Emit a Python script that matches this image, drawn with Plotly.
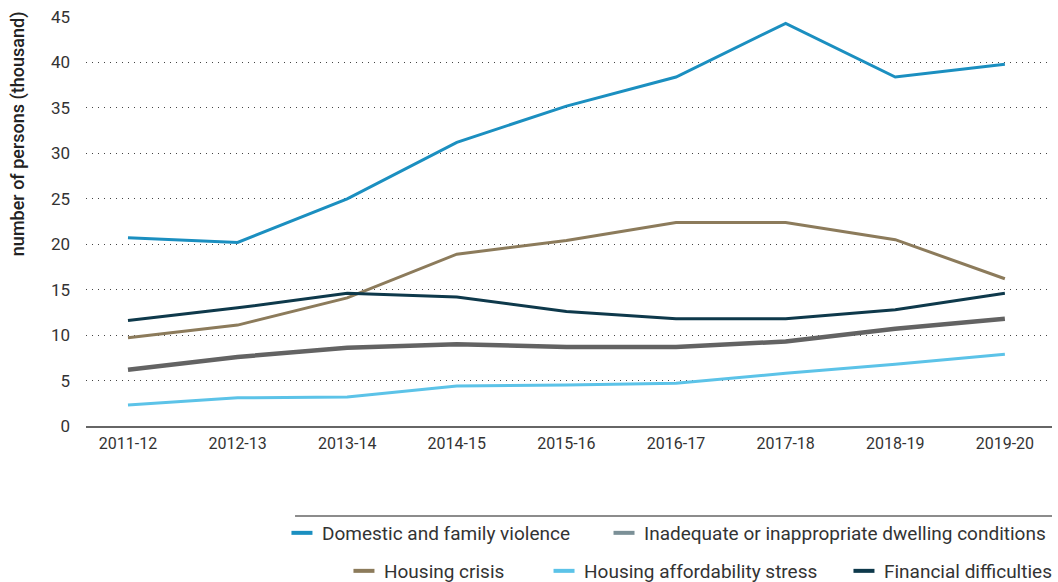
import plotly.graph_objects as go

years = ["2011-12", "2012-13", "2013-14", "2014-15", "2015-16", "2016-17", "2017-18", "2018-19", "2019-20"]
domestic = [20.7, 20.2, 25.0, 31.2, 35.2, 38.4, 44.3, 38.4, 39.8]
inadequate = [6.2, 7.6, 8.6, 9.0, 8.7, 8.7, 9.3, 10.7, 11.8]
housing_crisis = [9.7, 11.1, 14.1, 18.9, 20.4, 22.4, 22.4, 20.5, 16.2]
affordability = [2.3, 3.1, 3.2, 4.4, 4.5, 4.7, 5.8, 6.8, 7.9]
financial = [11.6, 13.0, 14.6, 14.2, 12.6, 11.8, 11.8, 12.8, 14.6]

# name, values, line colour, legend colour, width, legend id, legend x, legend y (container)
series = [
    ("Domestic and family violence", domestic, "#1b8fc0", "#1b8fc0", 3, "legend", 0.2665, 0.0842),
    ("Inadequate or inappropriate dwelling conditions", inadequate, "#636363", "#7b9097", 4.5, "legend2", 0.5709, 0.0842),
    ("Housing crisis", housing_crisis, "#8c7b5b", "#8c7b5b", 3, "legend3", 0.3251, 0.0189),
    ("Housing affordability stress", affordability, "#5cc3e8", "#5cc3e8", 3, "legend4", 0.5142, 0.0189),
    ("Financial difficulties", financial, "#0e394b", "#0e394b", 3, "legend5", 0.7977, 0.0189),
]

fig = go.Figure()
for name, vals, col, lcol, w, lg, lx, ly in series:
    fig.add_trace(go.Scatter(x=years, y=vals, mode="lines", name=name,
                             line=dict(color=col, width=w), showlegend=False))

legends = {}
for name, vals, col, lcol, w, lg, lx, ly in series:
    fig.add_trace(go.Scatter(x=[None], y=[None], mode="markers", name=name,
                             marker=dict(symbol="line-ew", size=15, color=lcol,
                                         line=dict(color=lcol, width=4)),
                             legend=lg, showlegend=True))
    legends[lg] = dict(orientation="h", x=lx, xanchor="left", y=ly, yanchor="middle",
                       xref="container", yref="container",
                       font=dict(size=19, color="#333"), itemwidth=30,
                       bgcolor="rgba(0,0,0,0)", borderwidth=0)

fig.update_layout(
    width=1058, height=582,
    margin=dict(l=86, r=6, t=17, b=156),
    plot_bgcolor="white", paper_bgcolor="white",
    font=dict(family="Roboto, sans-serif", size=18, color="#333"),
    xaxis=dict(type="category", range=[-0.383, 8.43], showgrid=False,
               showline=True, linecolor="#666", linewidth=2, automargin=False,
               ticks="", tickfont=dict(size=16, color="#333"), ticklabelstandoff=2),
    yaxis=dict(range=[0, 45], dtick=5, showgrid=True, gridcolor="#444",
               griddash="1px,5px", gridwidth=1, zeroline=False, automargin=False,
               tickfont=dict(size=17, color="#333"), ticklabelstandoff=15),
    annotations=[dict(text="number of persons (thousand)", textangle=-90,
                      xref="paper", yref="paper", x=-0.0704, y=0.716,
                      xanchor="center", yanchor="middle", showarrow=False,
                      font=dict(size=18, color="#222", weight=500))],
    shapes=[dict(type="line", xref="paper", yref="paper", x0=0.2164, x1=1.0,
                 y0=-0.220, y1=-0.220, line=dict(color="#666", width=1.5))],
    **legends,
)

fig.write_html("out.html", config={"displayModeBar": False},
               post_script="document.body.style.margin='0';document.body.style.overflow='hidden';")
